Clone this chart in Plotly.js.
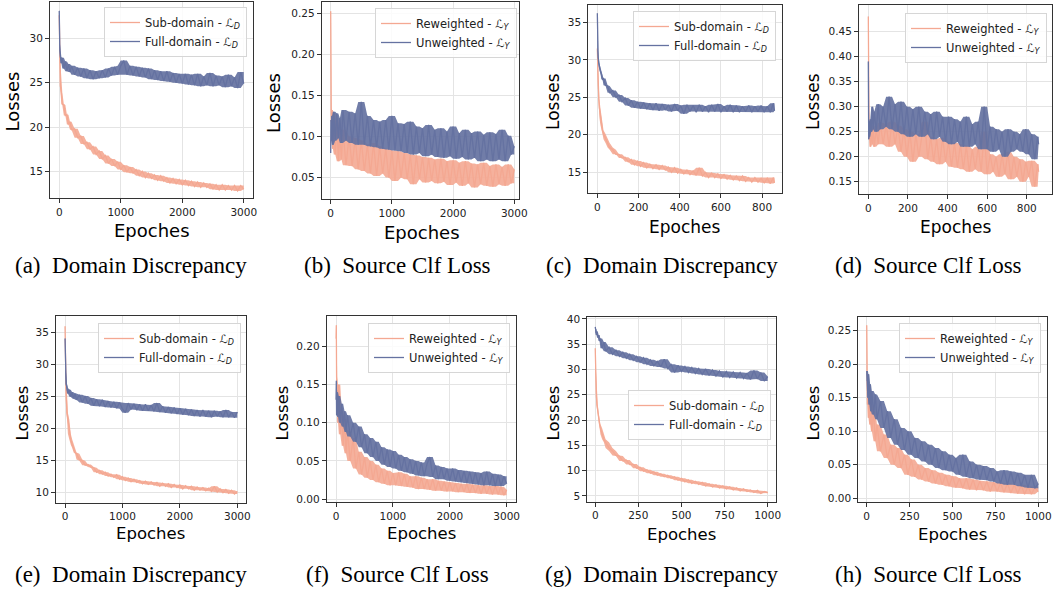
<!DOCTYPE html>
<html>
<head>
<meta charset="utf-8">
<script src="https://cdn.plot.ly/plotly-3.0.1.min.js"></script>
<style>html,body{margin:0;padding:0;background:#fff}#chart{width:1055px;height:592px}</style>
</head>
<body>
<div id="chart"></div>
<script>
// ---------------- DATA ----------------
const EP_3000 = [0,5,10,20,35,50,75,100,125,150,175,200,250,300,350,400,450,500,550,600,650,700,750,800,850,900,950,1000,1050,1100,1150,1200,1250,1300,1350,1400,1450,1500,1550,1600,1650,1700,1750,1800,1850,1900,1950,2000,2050,2100,2150,2200,2250,2300,2350,2400,2450,2500,2550,2600,2650,2700,2750,2800,2850,2900,2950,3000];
const EP_860 = [0,2,4,7,10,15,20,25,30,40,50,60,75,90,105,120,135,150,165,180,195,210,225,240,255,270,285,300,315,330,345,360,375,390,405,420,435,450,465,480,495,510,525,540,555,570,585,600,615,630,645,660,675,690,705,720,735,750,765,780,795,810,825,840,855,860];
const EP_1000 = [0,2,4,7,10,15,20,25,30,40,50,60,80,100,120,140,160,180,200,220,240,260,280,300,320,340,360,380,400,420,440,460,480,500,520,540,560,580,600,620,640,660,680,700,720,740,760,780,800,820,840,860,880,900,920,940,960,980,1000];

// (a) Domain Discrepancy
const A_SUB = [32.6,28.2,26.8,24.6,23.9,22.6,22.5,21.3,21.4,20.3,20.6,19.7,19.8,18.8,19.0,18.1,18.3,17.5,17.8,16.9,17.3,16.4,16.8,15.9,16.4,15.6,16.1,15.2,15.7,14.9,15.5,14.8,15.2,14.5,15.0,14.3,14.8,14.2,14.6,14.0,14.5,13.9,14.3,13.7,14.2,13.6,14.1,13.5,14.0,13.4,13.9,13.3,13.8,13.2,13.7,13.2,13.6,13.0,13.5,12.9,13.5,12.9,13.4,12.9,13.4,12.8,13.4,13.0];
const A_FULL = [33.1,29.5,28.6,27.9,27.2,27.8,26.6,27.4,26.3,27.1,26.2,26.9,25.9,26.7,25.7,26.6,25.5,26.4,25.4,26.3,25.5,26.4,25.6,26.6,25.8,26.8,25.9,26.9,27.5,25.9,26.9,25.8,26.8,25.7,26.7,25.6,26.6,25.4,26.4,25.3,26.3,25.2,26.3,25.1,26.1,25.0,26.0,24.9,26.0,24.8,25.9,24.7,26.0,24.6,25.7,24.7,26.1,24.6,25.8,24.7,25.7,24.5,25.9,24.6,25.6,24.4,26.2,24.9];
// (b) Source Clf Loss
const B_RE = [0.252,0.135,0.118,0.132,0.085,0.128,0.078,0.122,0.07,0.105,0.072,0.108,0.065,0.1,0.064,0.098,0.06,0.095,0.058,0.09,0.055,0.092,0.052,0.088,0.055,0.085,0.05,0.083,0.046,0.082,0.05,0.08,0.048,0.078,0.042,0.077,0.048,0.075,0.044,0.074,0.046,0.072,0.043,0.073,0.045,0.07,0.041,0.071,0.044,0.068,0.04,0.07,0.043,0.067,0.038,0.066,0.042,0.068,0.04,0.064,0.039,0.066,0.042,0.063,0.04,0.066,0.043,0.06];
const B_UN = [0.08,0.12,0.095,0.125,0.09,0.13,0.095,0.128,0.098,0.122,0.092,0.132,0.095,0.13,0.092,0.128,0.09,0.142,0.09,0.125,0.088,0.12,0.087,0.118,0.085,0.12,0.084,0.125,0.083,0.116,0.082,0.115,0.08,0.118,0.078,0.112,0.08,0.11,0.076,0.114,0.078,0.108,0.075,0.11,0.074,0.106,0.076,0.112,0.073,0.104,0.075,0.108,0.072,0.104,0.074,0.106,0.07,0.102,0.072,0.105,0.07,0.103,0.072,0.108,0.07,0.101,0.078,0.088];
// (c) Domain Discrepancy
const C_SUB = [31.5,28.5,26.5,24.8,23.6,22.3,21.3,20.6,20.1,19.4,18.9,18.3,18.0,17.4,17.4,16.9,17.0,16.4,16.7,16.0,16.5,15.8,16.3,15.6,16.1,15.5,16.0,15.4,15.9,15.3,15.7,15.0,15.6,14.9,15.4,14.8,15.3,14.7,15.2,14.6,15.6,14.5,15.0,14.3,14.9,14.3,14.8,14.2,14.7,14.1,14.6,14.0,14.5,13.9,14.5,13.8,14.3,13.7,14.3,13.7,14.2,13.6,14.2,13.5,14.3,13.6];
const C_FULL = [36.2,31.2,30.3,29.6,29.0,28.5,28.1,27.4,27.5,26.6,26.5,25.6,25.9,25.0,25.3,24.4,24.9,23.9,24.6,23.6,24.4,23.5,24.3,23.4,24.2,23.3,24.2,23.2,24.1,23.3,24.0,23.1,24.1,23.2,23.9,22.8,24.0,23.1,23.9,23.0,24.0,23.1,23.8,23.0,24.0,23.1,24.1,23.0,23.8,23.1,24.0,23.0,23.9,23.0,23.8,23.1,23.9,23.0,23.8,23.1,23.9,23.0,23.8,23.0,24.2,23.2];
// (d) Source Clf Loss
const D_RE = [0.48,0.26,0.235,0.27,0.22,0.25,0.225,0.262,0.22,0.255,0.225,0.268,0.225,0.265,0.22,0.27,0.225,0.262,0.21,0.255,0.2,0.25,0.19,0.245,0.2,0.24,0.27,0.195,0.24,0.19,0.235,0.185,0.238,0.19,0.23,0.18,0.228,0.178,0.225,0.175,0.222,0.17,0.215,0.175,0.22,0.17,0.25,0.165,0.205,0.17,0.2,0.16,0.205,0.165,0.21,0.155,0.2,0.16,0.195,0.15,0.19,0.16,0.192,0.14,0.185,0.17];
const D_UN = [0.39,0.235,0.27,0.24,0.275,0.25,0.3,0.255,0.29,0.25,0.305,0.255,0.3,0.26,0.32,0.255,0.305,0.25,0.31,0.245,0.3,0.24,0.295,0.245,0.3,0.24,0.29,0.245,0.285,0.235,0.29,0.24,0.28,0.23,0.28,0.225,0.275,0.23,0.27,0.22,0.28,0.22,0.265,0.225,0.27,0.215,0.3,0.215,0.26,0.21,0.255,0.215,0.25,0.2,0.255,0.21,0.25,0.215,0.245,0.21,0.255,0.205,0.245,0.195,0.24,0.225];
// (e) Domain Discrepancy
const E_SUB = [36.0,30.5,27.8,25.2,22.5,21.4,19.2,18.3,17.5,17.0,16.3,16.1,15.2,15.0,14.3,14.4,14.0,13.9,13.2,13.5,12.9,13.2,12.6,12.9,12.4,12.8,12.1,12.5,11.9,12.3,11.7,12.1,11.6,11.9,11.4,11.8,11.3,11.7,11.2,11.6,11.0,11.5,11.0,11.4,10.8,11.3,10.8,11.2,10.6,11.1,10.6,11.0,10.4,10.9,10.4,10.8,10.3,10.7,10.2,11.0,10.1,10.6,10.0,10.5,9.9,10.4,9.8,10.2];
const E_FULL = [34.1,29.5,28.2,27.0,26.4,25.5,26.1,25.0,25.7,24.7,25.5,24.5,25.3,24.1,25.1,23.9,24.8,23.6,24.6,23.5,24.5,23.4,24.3,23.3,24.2,23.2,24.1,23.1,22.5,24.0,23.0,23.9,22.9,23.8,22.8,23.8,22.8,23.7,22.7,24.0,22.6,23.5,22.5,23.4,22.4,23.3,22.3,23.2,22.2,23.1,22.1,23.0,22.0,22.9,21.9,22.9,21.9,22.8,21.8,22.8,21.9,22.7,21.8,22.9,21.8,22.6,21.7,22.6];
// (f) Source Clf Loss
const F_RE = [0.21,0.228,0.16,0.13,0.1,0.15,0.085,0.115,0.07,0.105,0.06,0.09,0.05,0.08,0.04,0.062,0.032,0.055,0.028,0.05,0.025,0.045,0.022,0.04,0.02,0.037,0.018,0.034,0.018,0.035,0.017,0.033,0.016,0.03,0.015,0.03,0.013,0.028,0.013,0.026,0.012,0.026,0.011,0.024,0.011,0.023,0.01,0.022,0.01,0.021,0.009,0.02,0.009,0.02,0.008,0.019,0.008,0.018,0.007,0.018,0.007,0.017,0.006,0.017,0.006,0.016,0.005,0.012];
const F_UN = [0.13,0.155,0.11,0.14,0.108,0.135,0.1,0.125,0.095,0.115,0.088,0.11,0.082,0.1,0.075,0.095,0.068,0.085,0.06,0.08,0.055,0.075,0.05,0.068,0.045,0.065,0.042,0.063,0.04,0.058,0.037,0.055,0.035,0.052,0.033,0.05,0.031,0.048,0.03,0.046,0.055,0.029,0.044,0.026,0.042,0.026,0.04,0.024,0.04,0.023,0.038,0.022,0.037,0.021,0.036,0.02,0.035,0.019,0.034,0.018,0.036,0.018,0.033,0.017,0.032,0.017,0.03,0.02];
// (g) Domain Discrepancy
const G_SUB = [34.2,30,27,24.5,23,21.5,20.2,19.2,18.4,17.2,16.2,15.6,14.5,13.9,13.0,12.9,11.9,12.1,11.2,11.3,10.5,10.7,9.9,10.2,9.5,9.8,9.1,9.4,8.8,9.1,8.5,8.8,8.1,8.5,7.8,8.2,7.5,7.9,7.3,7.7,7.0,7.4,6.8,7.2,6.6,7.0,6.4,6.8,6.2,6.6,6.0,6.4,5.9,6.2,5.7,6.1,5.5,5.9,5.6];
const G_FULL = [38.4,37.2,38.0,36.8,37.5,36.3,36.8,35.6,36.1,34.2,35.4,33.6,34.4,33.0,33.8,32.6,33.4,32.2,33.0,31.8,32.6,31.4,32.3,31.0,31.9,30.7,31.6,30.5,32.0,30.2,31.0,29.4,30.8,29.6,30.6,29.4,30.4,29.2,30.2,29.0,30.1,28.8,29.9,28.7,29.7,28.5,29.6,28.4,29.5,28.3,29.4,28.2,29.3,28.0,29.8,28.1,29.4,27.7,28.6];
// (h) Source Clf Loss
const H_RE = [0.258,0.19,0.14,0.17,0.12,0.15,0.11,0.14,0.1,0.13,0.085,0.11,0.07,0.095,0.06,0.08,0.05,0.075,0.045,0.065,0.035,0.058,0.032,0.05,0.028,0.045,0.025,0.042,0.022,0.038,0.02,0.035,0.018,0.033,0.016,0.03,0.015,0.03,0.013,0.028,0.012,0.026,0.012,0.025,0.01,0.024,0.01,0.023,0.009,0.022,0.008,0.02,0.007,0.02,0.006,0.018,0.006,0.016,0.01];
const H_UN = [0.19,0.175,0.19,0.15,0.185,0.14,0.17,0.13,0.16,0.125,0.155,0.118,0.145,0.105,0.13,0.09,0.118,0.08,0.105,0.072,0.1,0.065,0.09,0.06,0.085,0.055,0.08,0.05,0.075,0.045,0.07,0.042,0.065,0.04,0.06,0.035,0.065,0.032,0.055,0.03,0.05,0.028,0.048,0.027,0.045,0.025,0.04,0.022,0.042,0.02,0.04,0.02,0.038,0.018,0.035,0.016,0.035,0.015,0.022];

// Labels
const NAMES_D = ['Sub-domain - ℒ<sub><i>D</i></sub>', 'Full-domain - ℒ<sub><i>D</i></sub>'];
const NAMES_Y = ['Reweighted - ℒ<sub><i>Y</i></sub>', 'Unweighted - ℒ<sub><i>Y</i></sub>'];
const CAPTIONS = ['(a)  Domain Discrepancy','(b)  Source Clf Loss','(c)  Domain Discrepancy','(d)  Source Clf Loss',
                  '(e)  Domain Discrepancy','(f)  Source Clf Loss','(g)  Domain Discrepancy','(h)  Source Clf Loss'];
const X_LABEL = 'Epoches', Y_LABEL = 'Losses';

// ---------------- LAYOUT / STYLE ----------------
const W = 1055, H = 592;
const px = v => v / W, py = v => 1 - v / H;
const ORANGE = '#f4a892', BLUE = '#6572a1';
const ORANGE_FILL = 'rgba(244,168,146,0.9)', BLUE_FILL = 'rgba(101,114,161,0.92)';

const panels = [
  {ep:EP_3000, s:[A_SUB,A_FULL], names:NAMES_D, f:[50,253,2,198], xr:[-150,3150], yr:[12.0,34.1], xt:[0,1000,2000,3000], yt:[15,20,25,30], yf:'d', leg:[247,7], xl:[151.5,231], yl:[12.5,102], cap:[131,265], lf:18, tf:10.5},
  {ep:EP_3000, s:[B_RE,B_UN], names:NAMES_Y, f:[321.7,519,2.3,199], xr:[-147,3077], yr:[0.024,0.263], xt:[0,1000,2000,3000], yt:[0.05,0.10,0.15,0.20,0.25], yf:'.2f', leg:[517,8], xl:[421.7,232], yl:[273,103], cap:[397,265], lf:18, tf:10.5},
  {ep:EP_860, s:[C_SUB,C_FULL], names:NAMES_D, f:[588.3,782.3,4.7,193.3], xr:[-43.8,898], yr:[12.2,37.35], xt:[0,200,400,600,800], yt:[15,20,25,30,35], yf:'d', leg:[776,11], xl:[685,226.7], yl:[553,102], cap:[662,265], lf:17, tf:10.5},
  {ep:EP_860, s:[D_RE,D_UN], names:NAMES_Y, f:[859,1051.7,5,194.3], xr:[-47,926], yr:[0.125,0.503], xt:[0,200,400,600,800], yt:[0.15,0.20,0.25,0.30,0.35,0.40,0.45], yf:'.2f', leg:[1047,13], xl:[955.7,226.7], yl:[813,102], cap:[928,265], lf:17, tf:10.5},
  {ep:EP_3000, s:[E_SUB,E_FULL], names:NAMES_D, f:[56,246,316,502.7], xr:[-157,3151], yr:[8.44,37.6], xt:[0,1000,2000,3000], yt:[10,15,20,25,30,35], yf:'d', leg:[241,323], xl:[150.7,533], yl:[21.5,413], cap:[131,574], lf:16.5, tf:10.5},
  {ep:EP_3000, s:[F_RE,F_UN], names:NAMES_Y, f:[326.7,516,316,502.3], xr:[-164,3164], yr:[-0.0043,0.240], xt:[0,1000,2000,3000], yt:[0,0.05,0.10,0.15,0.20], yf:'.2f', leg:[510,323], xl:[421.7,533], yl:[281.5,413], cap:[397,574], lf:16.5, tf:10.5},
  {ep:EP_1000, s:[G_SUB,G_FULL], names:NAMES_D, f:[587.3,776,317.3,501.7], xr:[-46,1048], yr:[3.87,40.3], xt:[0,250,500,750,1000], yt:[5,10,15,20,25,30,35,40], yf:'d', leg:[771,390], xl:[681.7,534], yl:[552.5,413], cap:[662,574], lf:16.5, tf:10.5},
  {ep:EP_1000, s:[H_RE,H_UN], names:NAMES_Y, f:[858.3,1046.7,317.3,502.3], xr:[-49,1049], yr:[-0.006,0.270], xt:[0,250,500,750,1000], yt:[0,0.05,0.10,0.15,0.20,0.25], yf:'.2f', leg:[1041,323], xl:[952,534], yl:[812.5,413], cap:[928,574], lf:16.5, tf:10.5}
];

// band polygon (local min/max envelope of the noisy series) so the dense noise reads as a filled band
function band(x, y) {
  const n = Math.min(x.length, y.length), hi = [], lo = [], xs = [];
  for (let i = 0; i < n; i++) {
    const a = y[Math.max(0, i - 1)], b = y[i], c = y[Math.min(n - 1, i + 1)];
    hi.push(Math.max(a, b, c)); lo.push(Math.min(a, b, c)); xs.push(x[i]);
  }
  return {x: xs.concat(xs.slice().reverse()), y: hi.concat(lo.slice().reverse())};
}

const traces = [];
const layout = {
  width: W, height: H, margin: {l:0, r:0, t:0, b:0},
  paper_bgcolor: '#fff', plot_bgcolor: '#fff',
  showlegend: true, annotations: [], hovermode: false
};
const FONT = 'DejaVu Sans, Verdana, sans-serif';

panels.forEach((p, i) => {
  const n = i + 1;
  const xs = n === 1 ? '' : String(n);
  const legKey = n === 1 ? 'legend' : 'legend' + n;
  [[ORANGE, ORANGE_FILL], [BLUE, BLUE_FILL]].forEach((c, k) => {
    const b = band(p.ep, p.s[k]);
    traces.push({
      type: 'scatter', mode: 'lines', x: b.x, y: b.y, fill: 'toself', fillcolor: c[1],
      line: {width: 0, color: c[0]}, xaxis: 'x' + xs, yaxis: 'y' + xs, legend: legKey, showlegend: false
    });
    traces.push({
      type: 'scatter', mode: 'lines', x: p.ep, y: p.s[k], name: p.names[k],
      xaxis: 'x' + xs, yaxis: 'y' + xs, legend: legKey,
      line: {color: c[0], width: 1.3}
    });
  });
  const common = {
    showgrid: true, gridcolor: '#e4e4e4', gridwidth: 1, zeroline: false,
    showline: true, mirror: true, linecolor: '#333', linewidth: 1,
    ticks: 'outside', ticklen: 4, tickwidth: 1, tickcolor: '#333',
    tickfont: {family: FONT, size: p.tf, color: '#222'}, fixedrange: true
  };
  layout['xaxis' + xs] = Object.assign({}, common, {
    domain: [px(p.f[0]), px(p.f[1])], range: p.xr, tickmode: 'array', tickvals: p.xt,
    anchor: 'y' + xs
  });
  layout['yaxis' + xs] = Object.assign({}, common, {
    domain: [py(p.f[3]), py(p.f[2])], range: p.yr, tickmode: 'array', tickvals: p.yt,
    tickformat: p.yf, anchor: 'x' + xs
  });
  layout[legKey] = {
    x: px(p.leg[0]), y: py(p.leg[1]), xanchor: 'right', yanchor: 'top',
    xref: 'paper', yref: 'paper',
    bgcolor: 'rgba(255,255,255,0.85)', bordercolor: '#d6d6d6', borderwidth: 1,
    font: {family: FONT, size: 11.5, color: '#222'}, itemwidth: 30, tracegroupgap: 0
  };
  layout.annotations.push({
    xref: 'paper', yref: 'paper', x: px(p.xl[0]), y: py(p.xl[1]), xanchor: 'center', yanchor: 'middle',
    text: X_LABEL, showarrow: false, font: {family: FONT, size: p.lf, color: '#000'}
  });
  layout.annotations.push({
    xref: 'paper', yref: 'paper', x: px(p.yl[0]), y: py(p.yl[1]), xanchor: 'center', yanchor: 'middle',
    text: Y_LABEL, textangle: -90, showarrow: false, font: {family: FONT, size: p.lf, color: '#000'}
  });
  layout.annotations.push({
    xref: 'paper', yref: 'paper', x: px(p.cap[0]), y: py(p.cap[1]), xanchor: 'center', yanchor: 'middle',
    text: CAPTIONS[i], showarrow: false, font: {family: 'Liberation Serif, Times New Roman, serif', size: 23, color: '#000'}
  });
});

Plotly.newPlot('chart', traces, layout, {staticPlot: true, displayModeBar: false});
</script>
</body>
</html>
